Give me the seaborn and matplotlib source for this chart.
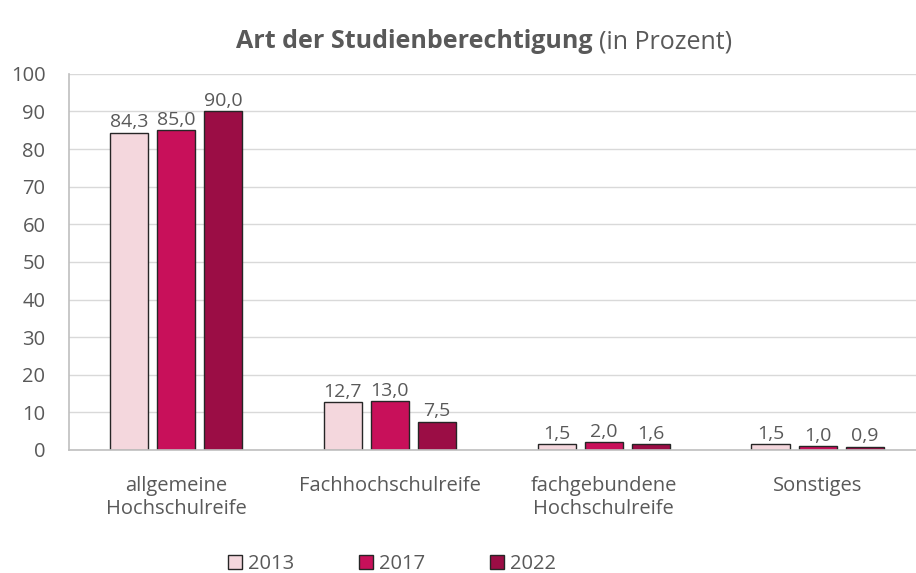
import matplotlib.pyplot as plt
import pandas as pd
import seaborn as sns

# Data
categories = ["allgemeine\nHochschulreife", "Fachhochschulreife",
              "fachgebundene\nHochschulreife", "Sonstiges"]
years = ["2013", "2017", "2022"]
values_2013 = [84.3, 12.7, 1.5, 1.5]
values_2017 = [85.0, 13.0, 2.0, 1.0]
values_2022 = [90.0, 7.5, 1.6, 0.9]

colors = ["#F4D7DD", "#C8105A", "#9B0D45"]
text_color = "#595959"

df = pd.DataFrame({
    "Kategorie": categories * 3,
    "Jahr": [y for y in years for _ in categories],
    "Wert": values_2013 + values_2017 + values_2022,
})

sns.set_style("white")
plt.rcParams["font.family"] = ["Open Sans", "DejaVu Sans"]

fig = plt.figure(figsize=(9.16, 5.73), dpi=100)
ax = fig.add_axes([69 / 916, 0.2147, 1 - 69 / 916, 0.6565])

sns.barplot(data=df, x="Kategorie", y="Wert", hue="Jahr", order=categories,
            hue_order=years, palette=colors, saturation=1, width=0.66,
            gap=0.19, edgecolor="#262626", linewidth=1.0, ax=ax, legend=False)

for cont in ax.containers:
    ax.bar_label(cont, labels=[f"{b.get_height():.1f}".replace(".", ",")
                               for b in cont],
                 padding=1, fontsize=14, color=text_color)

ax.set_ylim(0, 100)
ax.set_xlim(-0.5, 3.46)
ax.set_yticks(range(0, 101, 10))
ax.yaxis.grid(True, color="#D9D9D9", linewidth=1)
ax.set_axisbelow(True)
ax.set_xlabel("")
ax.set_ylabel("")
ax.tick_params(axis="both", length=0, labelsize=14.5, labelcolor=text_color)
ax.tick_params(axis="x", pad=19)
ax.tick_params(axis="y", pad=17)
for side in ["top", "right"]:
    ax.spines[side].set_visible(False)
for side in ["left", "bottom"]:
    ax.spines[side].set_color("#BFBFBF")
    ax.spines[side].set_linewidth(1.2)

# Title: bold part + normal part
fig.text(593 / 916, 1 - 42 / 573, "Art der Studienberechtigung", ha="right",
         va="center", fontsize=18, fontweight="bold", color=text_color)
fig.text(599 / 916, 1 - 42 / 573, "(in Prozent)", ha="left", va="center",
         fontsize=18, color=text_color)

# Legend
handles = [plt.Rectangle((0, 0), 1, 1, facecolor=c, edgecolor="#262626",
                         linewidth=1.0) for c in colors]
fig.legend(handles, years, loc="center", bbox_to_anchor=(392 / 916, 1 - 564 / 573),
           ncol=3, frameon=False, fontsize=14.5, labelcolor=text_color,
           handlelength=0.7, handleheight=0.7, handletextpad=0.3,
           columnspacing=3.2)

fig.savefig("out.png", dpi=100)
